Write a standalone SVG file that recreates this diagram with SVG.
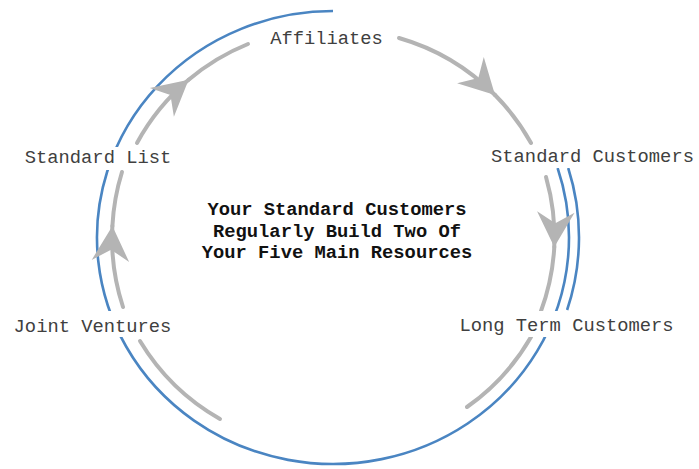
<svg xmlns="http://www.w3.org/2000/svg" width="699" height="469" viewBox="0 0 699 469">
<style>
.blue{fill:none;stroke:#4a85c2;stroke-width:2.6}
.gray{fill:none;stroke:#b4b4b4;stroke-width:4;stroke-linecap:round}
.lbl{font-family:"Liberation Mono","Courier New",monospace;font-size:18.8px;fill:#404040;text-anchor:middle}
.ctr{font-family:"Liberation Mono","Courier New",monospace;font-size:18.8px;font-weight:bold;fill:#111;text-anchor:middle}
.bg{fill:#fff}
</style>
<defs>
<marker id="ah" markerUnits="userSpaceOnUse" markerWidth="40" markerHeight="40" viewBox="-30 -16 32 32" refX="0" refY="0" orient="auto">
<path d="M0,0 L-28,-15 L-19,0 L-28,15 Z" fill="#b4b4b4"/>
</marker>
</defs>
<rect width="699" height="469" fill="#fff"/>
<g id="connectors">
<path class="blue" d="M333 11 A236 226.5 0 1 0 557.6 168"/>
<path class="blue" d="M568.2 168 A246 236.5 0 0 1 567.1 310"/>
<path class="gray" d="M399 38 A220 220 0 0 1 495 95" marker-end="url(#ah)"/>
<path class="gray" d="M495 95 A220 220 0 0 1 531 143"/>
<path class="gray" d="M546 177 A220 220 0 0 1 554.3 247" marker-end="url(#ah)"/>
<path class="gray" d="M554.3 247 A220 220 0 0 1 541 311"/>
<path class="gray" d="M531 337 A220 220 0 0 1 467 407"/>
<path class="gray" d="M220 419 A220 220 0 0 1 140 341"/>
<path class="gray" d="M123 307 A220 220 0 0 1 112.4 226" marker-end="url(#ah)"/>
<path class="gray" d="M112.4 226 A220 220 0 0 1 122 172"/>
<path class="gray" d="M137 143 A220 220 0 0 1 188.6 79.8" marker-end="url(#ah)"/>
<path class="gray" d="M188.6 79.8 A220 220 0 0 1 248 44"/>
</g>
<g id="affiliates">
<text class="lbl" x="326.5" y="44">Affiliates</text>
</g>
<g id="standard-customers">
<rect class="bg" x="488" y="145" width="209" height="23"/>
<text class="lbl" x="592.5" y="162">Standard Customers</text>
</g>
<g id="long-term-customers">
<rect class="bg" x="455" y="311" width="223" height="26"/>
<text class="lbl" x="566.5" y="331">Long Term Customers</text>
</g>
<g id="joint-ventures">
<rect class="bg" x="9" y="311" width="167" height="26"/>
<text class="lbl" x="92.5" y="332">Joint Ventures</text>
</g>
<g id="standard-list">
<rect class="bg" x="20" y="147" width="156" height="23"/>
<text class="lbl" x="98" y="163">Standard List</text>
</g>
<g id="center">
<text class="ctr" x="337" y="215">Your Standard Customers</text>
<text class="ctr" x="337" y="236.5">Regularly Build Two Of</text>
<text class="ctr" x="337" y="258">Your Five Main Resources</text>
</g>
</svg>
